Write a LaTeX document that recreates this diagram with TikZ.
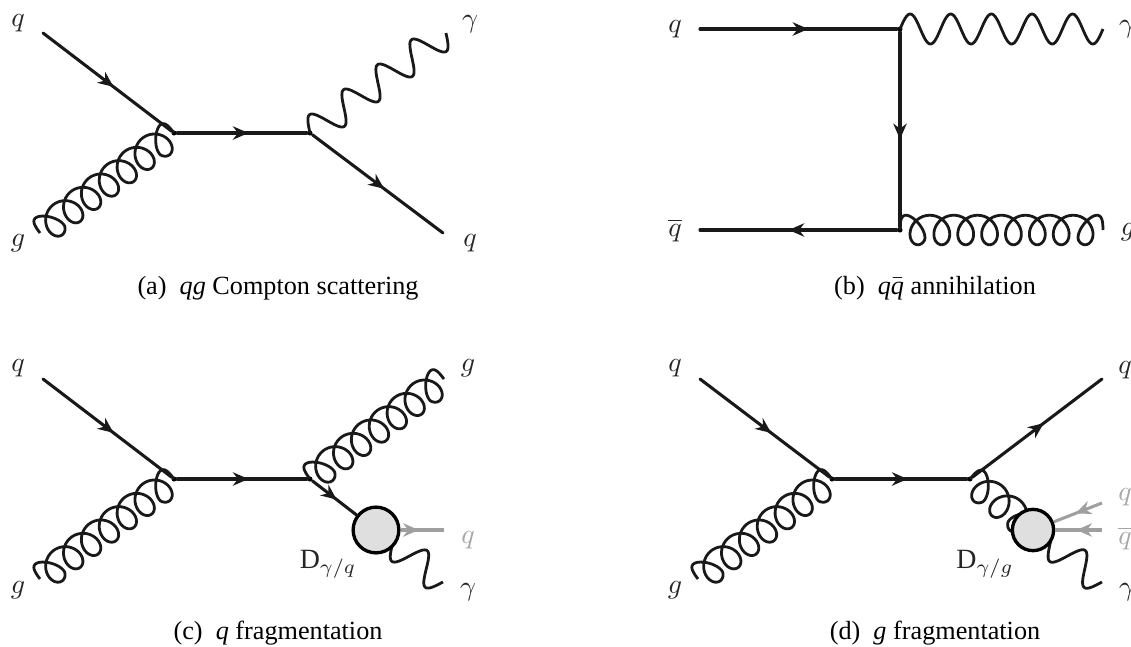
\documentclass[tikz,border=0pt]{standalone}
\usepackage{fontspec}
\setmainfont{Liberation Serif}
\usetikzlibrary{arrows.meta, decorations.markings, calc}

\begin{document}
\begin{tikzpicture}[
    x=0.0126cm, y=-0.0126cm,
    vtx/.style={circle, fill=black, inner sep=0pt, minimum size=1.8pt},
    lbl/.style={font=\normalsize, text=black!85},
    lblgray/.style={font=\normalsize, text=gray!70},
    capt/.style={font=\fontsize{9.4}{11}\selectfont},
    fermion/.style={line width=1.1pt, line cap=round, black!90, postaction={decorate}, decoration={markings, mark=at position 0.55 with {\arrow{Stealth[length=5.6pt, width=4.8pt]}}}},
    photon/.style={line width=1pt, black!90, line join=round, to path={
        let \p1=(\tikztostart), \p2=(\tikztotarget), \n1={veclen(\x2-\x1,\y2-\y1)}, \n2={atan2(\y2-\y1,\x2-\x1)} in
        -- plot[variable=\t, domain=0:360*#1, samples=120]
        ({\x1 + \n1*(\t/(360*#1))*cos(\n2) - 5.4pt*sin(\t)*sin(\n2)},
         {\y1 + \n1*(\t/(360*#1))*sin(\n2) + 5.4pt*sin(\t)*cos(\n2)})}},
    gluon/.style={line width=1pt, black!90, line join=round, to path={
        let \p1=(\tikztostart), \p2=(\tikztotarget), \n1={veclen(\x2-\x1,\y2-\y1)}, \n2={atan2(\y2-\y1,\x2-\x1)}, \n3={\n1/(#1+0.5)} in
        -- plot[variable=\t, domain=0:360*#1+180, samples=260]
        ({\x1 + (\n3*(\t/360)-4.8pt*cos(\t)*min(1,\t/220,(360*#1+180-\t)/220))*cos(\n2) - 5.3pt*sin(\t)*sin(\n2)},
         {\y1 + (\n3*(\t/360)-4.8pt*cos(\t)*min(1,\t/220,(360*#1+180-\t)/220))*sin(\n2) + 5.3pt*sin(\t)*cos(\n2)})}},
    softline/.style={line width=1.1pt, gray!75, postaction={decorate}, decoration={markings, mark=at position #1 with {\arrow{Stealth[length=5.6pt, width=4.8pt]}}}},
    blob/.style={circle, draw=black, line width=1.2pt, fill=gray!25, inner sep=0pt, minimum size=#1}
]
\useasboundingbox (0,0) rectangle (1131,646);

% (a) Compton
\node[vtx] (aLeft)  at (174,133) {};
\node[vtx] (aRight) at (310,133) {};
\coordinate (aInQ)  at (43,33);
\coordinate (aInG)  at (40,233);
\coordinate (aOutP) at (446,33);
\coordinate (aOutQ) at (443,233);
\draw[fermion] (aInQ) -- (aLeft);
\draw[gluon=7] (aInG) to (aLeft);
\draw[fermion] (aLeft) -- (aRight);
\draw[photon=4] (aRight) to (aOutP);
\draw[fermion] (aRight) -- (aOutQ);
\node[lbl] (aLq) at (18,23) {$q$};
\node[lbl] (aLg) at (18,243) {$g$};
\node[lbl] (aRp) at (470,24) {$\gamma$};
\node[lbl] (aRq) at (470,243) {$q$};
\node[capt] (aCap) at (278,288) {(a)\enspace\textit{qg} Compton scattering};

% (b) annihilation
\node[vtx] (bTop) at (900,29) {};
\node[vtx] (bBot) at (900,230) {};
\coordinate (bInQ)  at (700,29);
\coordinate (bInA)  at (700,230);
\coordinate (bOutP) at (1103,29);
\coordinate (bOutG) at (1103,230);
\draw[fermion] (bInQ) -- (bTop);
\draw[fermion] (bTop) -- (bBot);
\draw[fermion] (bBot) -- (bInA);
\draw[photon=5] (bTop) to (bOutP);
\draw[gluon=8] (bBot) to (bOutG);
\node[lbl] (bLq) at (675,29) {$q$};
\node[lbl] (bLa) at (675,230) {$\overline{q}$};
\node[lbl] (bRp) at (1127,29) {$\gamma$};
\node[lbl] (bRg) at (1128,232) {$g$};
\node[capt] (bCap) at (935,288) {(b)\enspace\textit{q}$\bar{\mbox{\textit{q}}}$ annihilation};

% (c) q fragmentation
\node[vtx] (cLeft)  at (174,479) {};
\node[vtx] (cRight) at (310,479) {};
\coordinate (cCore) at (376,530);
\coordinate (cInQ)  at (43,379);
\coordinate (cInG)  at (40,579);
\coordinate (cOutG) at (444,379);
\coordinate (cOutQ) at (444,530);
\coordinate (cOutP) at (443,582);
\draw[photon=2] (cCore) to (cOutP);
\node[blob=16.4pt] (cBlob) at (cCore) {};
\draw[fermion] (cInQ) -- (cLeft);
\draw[gluon=7] (cInG) to (cLeft);
\draw[fermion] (cLeft) -- (cRight);
\draw[gluon=7] (cRight) to (cOutG);
\draw[fermion] (cRight) -- (cBlob);
\draw[softline=0.42] (cBlob) -- (cOutQ);
\node[lbl] (cLq) at (18,368) {$q$};
\node[lbl] (cLg) at (18,590) {$g$};
\node[lbl] (cRg) at (468,368) {$g$};
\node[lblgray] (cRq) at (468,540) {$q$};
\node[lbl] (cRp) at (468,592) {$\gamma$};
\node[lbl] (cFrag) at (328,564) {$\mathrm{D}_{\gamma/q}$};
\node[capt] (cCap) at (278,633) {(c)\enspace\textit{q} fragmentation};

% (d) g fragmentation
\node[vtx] (dLeft)  at (832,479) {};
\node[vtx] (dRight) at (970,479) {};
\coordinate (dCore) at (1033,530);
\coordinate (dInQ)  at (700,379);
\coordinate (dInG)  at (698,579);
\coordinate (dOutQ) at (1102,379);
\coordinate (dOutA) at (1102,503);
\coordinate (dOutB) at (1102,530);
\coordinate (dOutP) at (1102,582);
\draw[fermion] (dInQ) -- (dLeft);
\draw[gluon=7] (dInG) to (dLeft);
\draw[fermion] (dLeft) -- (dRight);
\draw[fermion] (dRight) -- (dOutQ);
\draw[gluon=3] (dRight) to (dCore);
\draw[photon=2] (dCore) to (dOutP);
\node[blob=14.8pt] (dBlob) at (dCore) {};
\draw[softline=0.55] (dOutA) -- (dBlob);
\draw[softline=0.55] (dOutB) -- (dBlob);
\node[lbl] (dLq) at (675,368) {$q$};
\node[lbl] (dLg) at (675,590) {$g$};
\node[lbl] (dRq) at (1125,370) {$q$};
\node[lblgray] (dRs) at (1125,497) {$q$};
\node[lblgray] (dRa) at (1125,538) {$\overline{q}$};
\node[lbl] (dRp) at (1127,592) {$\gamma$};
\node[lbl] (dFrag) at (985,564) {$\mathrm{D}_{\gamma/g}$};
\node[capt] (dCap) at (935,633) {(d)\enspace\textit{g} fragmentation};

\end{tikzpicture}
\end{document}
